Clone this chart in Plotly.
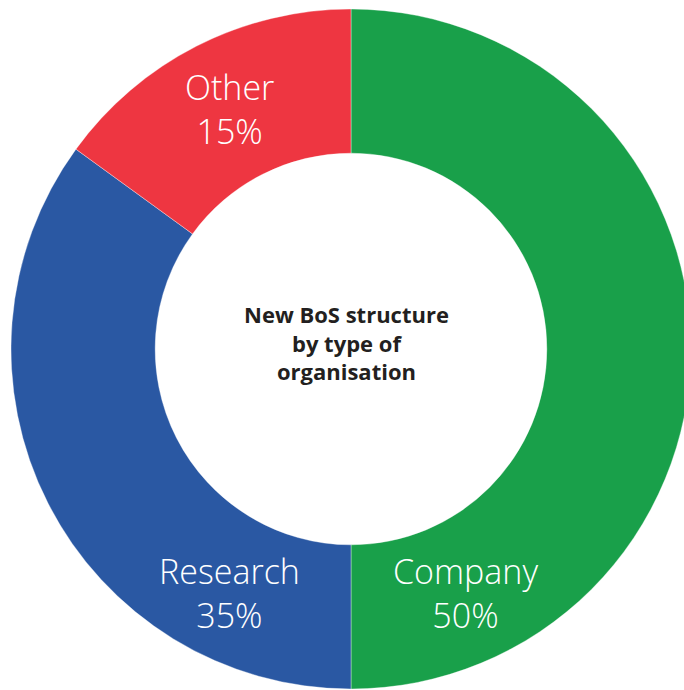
import plotly.graph_objects as go

# Data
categories = ["Company", "Research", "Other"]
shares = [50, 35, 15]
colors = ["#19A04A", "#2A58A3", "#EE3641"]
center_title = ["New BoS structure", "by type of", "organisation"]

W, H = 702, 690
ML, MR, MT, MB = 11, 11, 9, 1
PW, PH = W - ML - MR, H - MT - MB

def px(x):
    return (x - ML) / PW

def py(y):
    return 1 - (y - MT) / PH

fig = go.Figure(
    go.Pie(
        labels=categories,
        values=shares,
        sort=False,
        direction="clockwise",
        rotation=0,
        hole=0.576,
        textinfo="none",
        marker=dict(colors=colors, line=dict(color="rgba(255,255,255,0.6)", width=0.6)),
        showlegend=False,
        domain=dict(x=[0, 1], y=[0, 1]),
    )
)

# label anchor points (pixel centres of the two-line label block)
label_pos = {
    "Company": (465, 593),
    "Research": (229, 593),
    "Other": (229, 109),
}
label_font = dict(family="Open Sans", size=34, color="white", weight=300)
annotations = []
for cat, val in zip(categories, shares):
    x, y = label_pos[cat]
    annotations.append(dict(text=f"{cat}<br>{val}%", x=px(x), y=py(y), xref="paper", yref="paper",
                            showarrow=False, xanchor="center", yanchor="middle", align="center",
                            font=label_font))

annotations.append(dict(text="<br>".join(center_title), x=px(346), y=py(342), xref="paper", yref="paper",
                        showarrow=False, xanchor="center", yanchor="middle", align="center",
                        font=dict(family="Open Sans", size=22, color="#231F20", weight=700)))

fig.update_layout(
    width=W, height=H,
    margin=dict(l=ML, r=MR, t=MT, b=MB, pad=0),
    paper_bgcolor="white",
    plot_bgcolor="white",
    annotations=annotations,
)

fig.write_html(
    "out.html",
    config={"displayModeBar": False},
    post_script="document.body.style.margin='0';document.body.style.overflow='hidden';document.documentElement.style.overflow='hidden';",
)
